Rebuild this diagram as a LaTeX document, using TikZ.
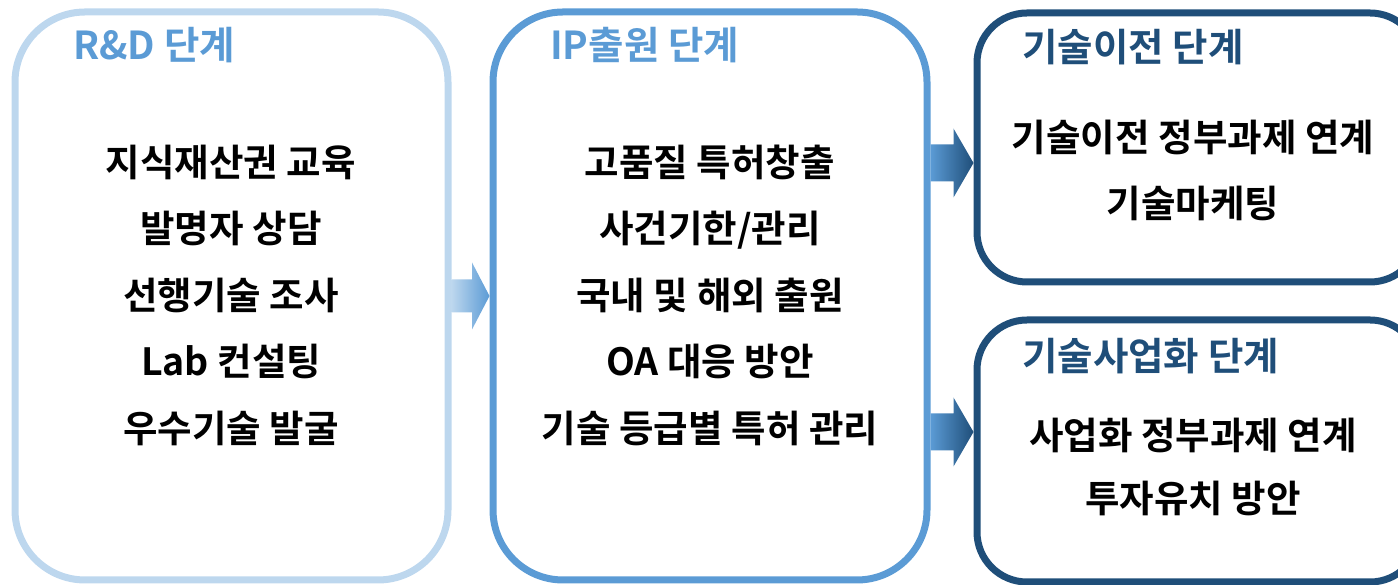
\documentclass[tikz,border=0pt]{standalone}
\usepackage{fontspec}
\setmainfont{Noto Sans CJK KR}[BoldFont={* Bold}]
\usepackage{xcolor}
\usepackage{tikz}
\usetikzlibrary{calc}

\definecolor{rndblue}{HTML}{BDD7EE}
\definecolor{ipblue}{HTML}{5B9BD5}
\definecolor{ttblue}{HTML}{1F4E79}

\begin{document}
\begin{tikzpicture}[x=1pt, y=1pt,
  stage/.style={draw, line width=7pt, inner sep=0pt},
  head/.style={anchor=west, inner sep=0pt, font=\fontsize{38.5}{38.5}\selectfont\bfseries},
  items/.style={align=center, inner sep=0pt, font=\fontsize{37.5}{66.5}\selectfont\bfseries}]
\useasboundingbox (0,0) rectangle (1398,585);

% stage boxes
\node[stage, draw=rndblue, rounded corners=70pt, minimum width=433pt, minimum height=568pt] (rnd) at (231.5,289) {};
\node[stage, draw=ipblue, rounded corners=70pt, minimum width=434pt, minimum height=568pt] (ip) at (710,289) {};
\node[stage, draw=ttblue, rounded corners=50pt, minimum width=443pt, minimum height=269pt] (tt) at (1198.5,437.5) {};
\node[stage, draw=ttblue, rounded corners=50pt, minimum width=443pt, minimum height=262pt] (biz) at (1198.5,134) {};

% headings
\node[head, text=ipblue] (rndhead) at (73,540) {R\&D 단계};
\node[head, text=ipblue] (iphead) at (550,540) {IP출원 단계};
\node[head, text=ttblue] (tthead) at (1022,538) {기술이전 단계};
\node[head, text=ttblue] (bizhead) at (1022,229) {기술사업화 단계};

% contents
\node[items] (rnditems) at (231,290) {지식재산권 교육\\발명자 상담\\선행기술 조사\\Lab 컨설팅\\우수기술 발굴};
\node[items] (ipitems) at (710,290) {고품질 특허창출\\사건기한/관리\\국내 및 해외 출원\\OA 대응 방안\\기술 등급별 특허 관리};
\node[items, font=\fontsize{37.5}{66}\selectfont\bfseries] (ttitems) at (1193,415) {기술이전 정부과제 연계\\기술마케팅};
\node[items, font=\fontsize{37.5}{63}\selectfont\bfseries] (bizitems) at (1193,118.5) {사업화 정부과제 연계\\투자유치 방안};

% arrows
\shade[left color=rndblue, right color=ipblue] ($(rnd.east)+(0,16.5)$) -- ($(ip.west)+(-17.5,16.5)$) -- ++(0,17) -- (ip.west)
  -- ($(ip.west)+(-17.5,-33.5)$) -- ++(0,17) -- ($(rnd.east)+(0,-16.5)$) -- cycle;
\coordinate (tttail) at ($(ip.east)+(0,133)$);
\coordinate (tttip) at (tt.west |- tttail);
\shade[left color=ipblue, right color=ttblue] ($(tttail)+(0,18.5)$) -- ($(tttip)+(-20,18.5)$) -- ++(0,16) -- (tttip)
  -- ($(tttip)+(-20,-34.5)$) -- ++(0,16) -- ($(tttail)+(0,-18.5)$) -- cycle;
\coordinate (biztail) at ($(ip.east)+(0,-136)$);
\coordinate (biztip) at (biz.west |- biztail);
\shade[left color=ipblue, right color=ttblue] ($(biztail)+(0,18.5)$) -- ($(biztip)+(-20,18.5)$) -- ++(0,16) -- (biztip)
  -- ($(biztip)+(-20,-34.5)$) -- ++(0,16) -- ($(biztail)+(0,-18.5)$) -- cycle;
\end{tikzpicture}
\end{document}
